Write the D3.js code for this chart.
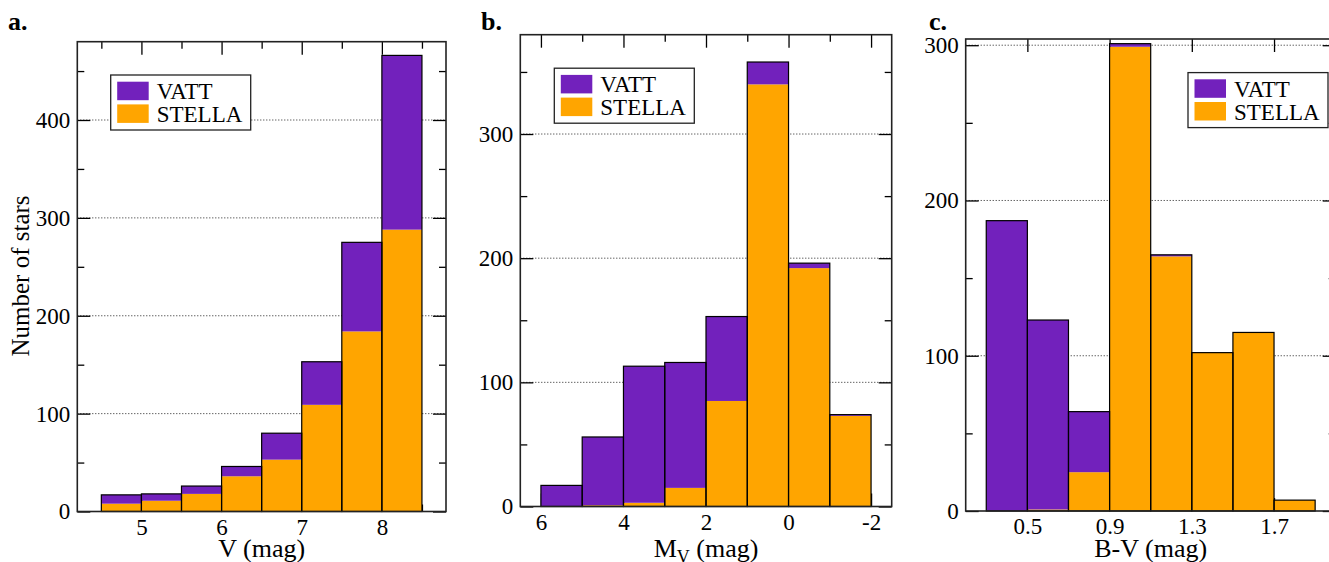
<!DOCTYPE html>
<html>
<head>
<meta charset="utf-8">
<script src="https://cdn.jsdelivr.net/npm/d3@7"></script>
<style>
  html, body { margin: 0; padding: 0; background: #fff; overflow: hidden; }
  svg { display: block; font-family: "Liberation Serif", "Times New Roman", serif; }
</style>
</head>
<body>
<svg id="chart" width="1329" height="562"></svg>
<script>
// ---------- DATA ----------
const seriesNames = ["VATT", "STELLA"];

// Panel a: V (mag), bins of 0.5 mag
const vBinStart = [4.5, 5.0, 5.5, 6.0, 6.5, 7.0, 7.5, 8.0];
const vBinEnd   = [5.0, 5.5, 6.0, 6.5, 7.0, 7.5, 8.0, 8.5];
const vVATT     = [9, 7, 8, 10, 27, 44, 91, 178];
const vSTELLA   = [8, 11, 18, 36, 53, 109, 184, 288];
const vXTicks   = [5, 6, 7, 8];
const vXMinor   = [4.5, 5.5, 6.5, 7.5, 8.5];
const vYTicks   = [0, 100, 200, 300, 400];
const vYMinor   = [50, 150, 250, 350, 450];

// Panel b: M_V (mag), bins of 1 mag (axis reversed)
const mvBinStart = [6, 5, 4, 3, 2, 1, 0, -1];
const mvBinEnd   = [5, 4, 3, 2, 1, 0, -1, -2];
const mvVATT     = [17, 55, 110, 101, 68, 18, 4, 1];
const mvSTELLA   = [0, 1, 3, 15, 85, 340, 192, 73];
const mvXTicks   = [6, 4, 2, 0, -2];
const mvXMinor   = [5, 3, 1, -1];
const mvYTicks   = [0, 100, 200, 300];
const mvYMinor   = [50, 150, 250, 350];

// Panel c: B-V (mag), bins of 0.2 mag
const bvBinStart = [0.3, 0.5, 0.7, 0.9, 1.1, 1.3, 1.5, 1.7];
const bvBinEnd   = [0.5, 0.7, 0.9, 1.1, 1.3, 1.5, 1.7, 1.9];
const bvVATT     = [187, 122, 39, 2, 1, 0, 0, 0];
const bvSTELLA   = [0, 1, 25, 299, 164, 102, 115, 7];
const bvXTicks   = [0.5, 0.9, 1.3, 1.7];
const bvXMinor   = [];
const bvYTicks   = [0, 100, 200, 300];
const bvYMinor   = [50, 150, 250];

// ---------- STYLE ----------
const colVATT = "#7221BC";
const colSTELLA = "#FFA500";
const fmtInt = d => String(d);          // plain hyphen-minus like the original
const fmt1 = d => d.toFixed(1);

const svg = d3.select("#chart");

function drawPanel(cfg) {
  const g = svg.append("g");
  const x = d3.scaleLinear().domain(cfg.xDomain).range([cfg.left, cfg.right]);
  const y = d3.scaleLinear().domain(cfg.yDomain).range([cfg.bottom, cfg.top]);

  // dotted grid at labelled y ticks
  g.append("g").selectAll("line").data(cfg.yTicks.filter(d => d > 0)).join("line")
    .attr("x1", cfg.left).attr("x2", cfg.right)
    .attr("y1", d => y(d)).attr("y2", d => y(d))
    .attr("stroke", "#222").attr("stroke-width", 1)
    .attr("stroke-dasharray", "1 2");

  const styleAxis = sel => {
    sel.attr("font-family", null).attr("font-size", null);
    sel.select(".domain").remove();
    sel.selectAll(".tick line").attr("stroke", "#000").attr("stroke-width", 1.3);
    sel.selectAll("text").attr("fill", "#000").attr("font-size", 23);
  };

  // major ticks with labels (bottom / left)
  g.append("g").attr("transform", `translate(0,${cfg.bottom})`)
    .call(d3.axisBottom(x).tickValues(cfg.xTicks).tickSize(-13).tickPadding(7)
      .tickFormat(cfg.xFmt))
    .call(styleAxis);
  g.append("g").attr("transform", `translate(${cfg.left},0)`)
    .call(d3.axisLeft(y).tickValues(cfg.yTicks).tickSize(-13).tickPadding(7)
      .tickFormat(fmtInt))
    .call(styleAxis);
  // opposite sides, no labels
  g.append("g").attr("transform", `translate(0,${cfg.top})`)
    .call(d3.axisTop(x).tickValues(cfg.xTicks).tickSize(-13).tickFormat(""))
    .call(styleAxis);
  g.append("g").attr("transform", `translate(${cfg.right},0)`)
    .call(d3.axisRight(y).tickValues(cfg.yTicks).tickSize(-13).tickFormat(""))
    .call(styleAxis);
  // minor ticks
  [["b", cfg.bottom], ["t", cfg.top]].forEach(([s, pos]) => {
    const ax = s === "b" ? d3.axisBottom(x) : d3.axisTop(x);
    g.append("g").attr("transform", `translate(0,${pos})`)
      .call(ax.tickValues(cfg.xMinor).tickSize(-7).tickFormat(""))
      .call(styleAxis);
  });
  [["l", cfg.left], ["r", cfg.right]].forEach(([s, pos]) => {
    const ax = s === "l" ? d3.axisLeft(y) : d3.axisRight(y);
    g.append("g").attr("transform", `translate(${pos},0)`)
      .call(ax.tickValues(cfg.yMinor).tickSize(-7).tickFormat(""))
      .call(styleAxis);
  });

  // stacked bars
  const rows = cfg.start.map((s, i) => ({
    x0: s, x1: cfg.end[i], stella: cfg.stella[i], vatt: cfg.vatt[i]
  }));
  const bx = d => Math.min(x(d.x0), x(d.x1));
  const bw = d => Math.abs(x(d.x1) - x(d.x0));
  const bars = g.append("g");
  bars.selectAll("rect.st").data(rows).join("rect").attr("class", "st")
    .attr("x", bx).attr("width", bw)
    .attr("y", d => y(d.stella)).attr("height", d => y(0) - y(d.stella))
    .attr("fill", colSTELLA);
  bars.selectAll("rect.va").data(rows).join("rect").attr("class", "va")
    .attr("x", bx).attr("width", bw)
    .attr("y", d => y(d.stella + d.vatt)).attr("height", d => y(d.stella) - y(d.stella + d.vatt))
    .attr("fill", colVATT);
  bars.selectAll("rect.ol").data(rows).join("rect").attr("class", "ol")
    .attr("x", bx).attr("width", bw)
    .attr("y", d => y(d.stella + d.vatt)).attr("height", d => y(0) - y(d.stella + d.vatt))
    .attr("fill", "none").attr("stroke", "#000").attr("stroke-width", 1.2);

  // frame
  g.append("rect")
    .attr("x", cfg.left).attr("y", cfg.top)
    .attr("width", cfg.right - cfg.left).attr("height", cfg.bottom - cfg.top)
    .attr("fill", "none").attr("stroke", "#222").attr("stroke-width", 1.6);

  // legend
  const lg = g.append("g").attr("transform", `translate(${cfg.legX},${cfg.legY})`);
  lg.append("rect").attr("width", 140).attr("height", 55)
    .attr("fill", "#fff").attr("stroke", "#222").attr("stroke-width", 1.3);
  [colVATT, colSTELLA].forEach((c, i) => {
    lg.append("rect").attr("x", 6.5).attr("y", 6.7 + i * 22.7)
      .attr("width", 31.5).attr("height", 18.5).attr("fill", c);
    lg.append("text").attr("x", 46).attr("y", 24.3 + i * 22.8)
      .attr("font-size", 23).attr("fill", "#000").text(seriesNames[i]);
  });

  // x title
  const t = g.append("text").attr("x", (cfg.left + cfg.right) / 2).attr("y", 557)
    .attr("text-anchor", "middle").attr("font-size", 26).attr("fill", "#000");
  cfg.xTitle(t);

  // panel letter
  g.append("text").attr("x", cfg.letterX).attr("y", 29.5)
    .attr("font-size", 26).attr("font-weight", "bold").attr("fill", "#000")
    .text(cfg.letter);
  return {x, y};
}

drawPanel({
  left: 77.3, right: 446, top: 41.7, bottom: 511.5,
  xDomain: [4.2, 8.8], yDomain: [0, 480],
  xTicks: vXTicks, xMinor: vXMinor, yTicks: vYTicks, yMinor: vYMinor,
  xFmt: fmtInt,
  start: vBinStart, end: vBinEnd, vatt: vVATT, stella: vSTELLA,
  legX: 110.7, legY: 75,
  xTitle: t => t.text("V (mag)"),
  letter: "a.", letterX: 8
});

drawPanel({
  left: 520.3, right: 891.7, top: 34.7, bottom: 506.5,
  xDomain: [6.5, -2.5], yDomain: [0, 380],
  xTicks: mvXTicks, xMinor: mvXMinor, yTicks: mvYTicks, yMinor: mvYMinor,
  xFmt: fmtInt,
  start: mvBinStart, end: mvBinEnd, vatt: mvVATT, stella: mvSTELLA,
  legX: 554.3, legY: 68.2,
  xTitle: t => {
    t.append("tspan").text("M");
    t.append("tspan").attr("font-size", 18).attr("dy", 6).text("V");
    t.append("tspan").attr("dy", -6).text(" (mag)");
  },
  letter: "b.", letterX: 481
});

drawPanel({
  left: 965.7, right: 1335.7, top: 39, bottom: 511,
  xDomain: [0.2, 2.0], yDomain: [0, 304],
  xTicks: bvXTicks, xMinor: bvXMinor, yTicks: bvYTicks, yMinor: bvYMinor,
  xFmt: fmt1,
  start: bvBinStart, end: bvBinEnd, vatt: bvVATT, stella: bvSTELLA,
  legX: 1188, legY: 72.6,
  xTitle: t => t.text("B-V (mag)"),
  letter: "c.", letterX: 929
});

// y axis title (panel a only)
svg.append("text")
  .attr("transform", "translate(29,276) rotate(-90)")
  .attr("text-anchor", "middle").attr("font-size", 25).attr("fill", "#000")
  .text("Number of stars");
</script>
</body>
</html>
